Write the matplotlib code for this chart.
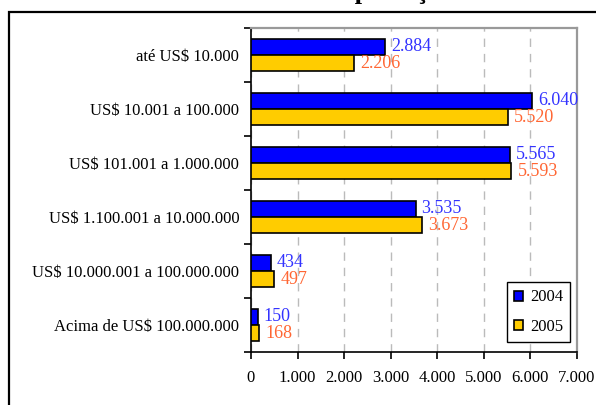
import matplotlib.pyplot as plt
from matplotlib.patches import Rectangle
from matplotlib.ticker import FuncFormatter, FixedLocator

plt.rcParams['font.family'] = ['Liberation Serif', 'DejaVu Serif']

categorias = [
    "até US$ 10.000",
    "US$ 10.001 a 100.000",
    "US$ 101.001 a 1.000.000",
    "US$ 1.100.001 a 10.000.000",
    "US$ 10.000.001 a 100.000.000",
    "Acima de US$ 100.000.000",
]
valores_2004 = [2884, 6040, 5565, 3535, 434, 150]
valores_2005 = [2206, 5520, 5593, 3673, 497, 168]
anos = ["2004", "2005"]


def fmt_milhar(v):
    return f"{int(round(v)):,}".replace(",", ".")


def main():
    fig = plt.figure(figsize=(5.96, 4.05), dpi=100)

    # moldura externa
    fig.patches.append(Rectangle((9 / 596, -0.1), 1.2, 0.1 + 393 / 405,
                                 transform=fig.transFigure, fill=False,
                                 edgecolor="black", linewidth=1.6))

    # titulo cortado no topo
    fig.text(325 / 596, 1.003, "Exportação", fontsize=19, fontweight="bold",
             ha="left", va="baseline")

    ax = fig.add_axes([251 / 596, 53 / 405, 326 / 596, 324 / 405])

    y = list(range(len(categorias)))
    h = 0.3
    b1 = ax.barh([i - h / 2 for i in y], valores_2004, height=h, color="#0000FF",
                 edgecolor="black", linewidth=1.2, label=anos[0], zorder=3)
    b2 = ax.barh([i + h / 2 for i in y], valores_2005, height=h, color="#FFCC00",
                 edgecolor="black", linewidth=1.2, label=anos[1], zorder=3)

    for bar, v in zip(b1, valores_2004):
        ax.annotate(fmt_milhar(v), (bar.get_width(), bar.get_y() + bar.get_height() / 2),
                    xytext=(4, 0), textcoords="offset points", va="center",
                    ha="left", color="#3333FF", fontsize=13)
    for bar, v in zip(b2, valores_2005):
        ax.annotate(fmt_milhar(v), (bar.get_width(), bar.get_y() + bar.get_height() / 2),
                    xytext=(4.5, 0), textcoords="offset points", va="center",
                    ha="left", color="#FF6633", fontsize=13)

    ax.set_xlim(0, 7000)
    ax.set_ylim(len(categorias) - 0.5, -0.5)
    ax.set_xticks(range(0, 7001, 1000))
    ax.xaxis.set_major_formatter(FuncFormatter(lambda v, p: fmt_milhar(v)))
    ax.set_yticks(y)
    ax.set_yticklabels(categorias)
    ax.yaxis.set_minor_locator(FixedLocator([i - 0.5 for i in range(len(categorias) + 1)]))
    ax.tick_params(axis="y", which="major", length=0, pad=8.5, labelsize=12)
    ax.tick_params(axis="y", which="minor", length=5, width=1.2, direction="out")
    ax.tick_params(axis="x", which="major", length=5, width=1.2, direction="out",
                   pad=8, labelsize=12)

    ax.grid(axis="x", color="#BBBBBB", linestyle=(0, (6, 5)), linewidth=1.0, zorder=0)
    for s in ("top", "right"):
        ax.spines[s].set_color("#999999")
        ax.spines[s].set_linewidth(1.6)
    for s in ("left", "bottom"):
        ax.spines[s].set_color("black")
        ax.spines[s].set_linewidth(1.2)

    leg = ax.legend(loc="lower right", bbox_to_anchor=(0.98, 0.03), fontsize=12,
                    frameon=True, fancybox=False, framealpha=1, edgecolor="black",
                    handlelength=0.55, handleheight=0.55, handletextpad=0.4,
                    labelspacing=0.8, borderpad=0.45, borderaxespad=0)
    leg.get_frame().set_linewidth(1.0)

    fig.savefig("out.png", dpi=100)


if __name__ == "__main__":
    main()
